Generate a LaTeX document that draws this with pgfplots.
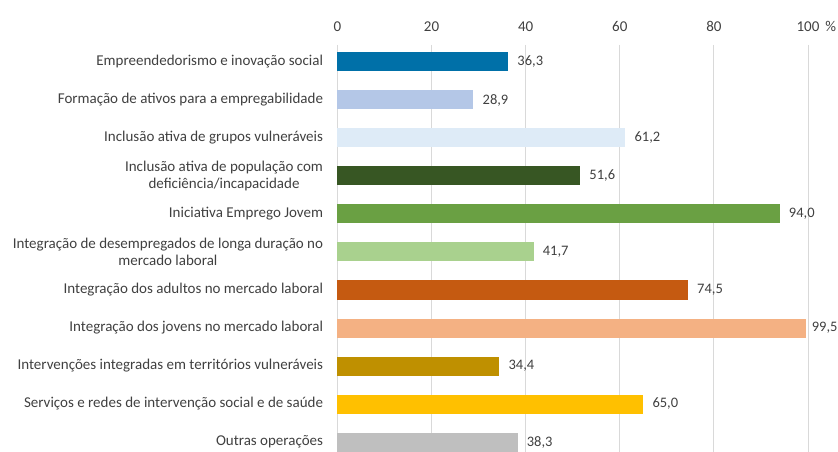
\documentclass[border=0pt]{standalone}
\usepackage{pgfplots}
\pgfplotsset{compat=1.18}
\usepackage{fontspec}
\setmainfont{Carlito}
\definecolor{c1}{HTML}{0070A8}
\definecolor{c2}{HTML}{B4C7E7}
\definecolor{c3}{HTML}{DEEBF7}
\definecolor{c4}{HTML}{375623}
\definecolor{c5}{HTML}{6AA043}
\definecolor{c6}{HTML}{A9D18E}
\definecolor{c7}{HTML}{C55A11}
\definecolor{c8}{HTML}{F4B183}
\definecolor{c9}{HTML}{BF9000}
\definecolor{c10}{HTML}{FFC000}
\definecolor{c11}{HTML}{BFBFBF}
\definecolor{txt}{HTML}{404040}
\definecolor{gridc}{HTML}{D9D9D9}
\begin{document}
\fontsize{15}{17}\selectfont
\begin{tikzpicture}
\useasboundingbox (-337.5pt,0pt) rectangle (500.5pt,452pt);
\begin{axis}[
  at={(0pt,0pt)}, anchor=south west,
  scale only axis, width=470.5pt, height=407pt,
  xbar, bar width=19pt, bar shift=0pt,
  xmin=0, xmax=100, ymin=-0.447, ymax=10.263, y dir=reverse,
  clip=false,
  axis line style={draw=none},
  tick style={draw=none},
  xticklabel pos=upper,
  xtick={0,20,40,60,80,100},
  xticklabels={0,20,40,60,80,100\rlap{\hspace{0.4em}\%}},
  xticklabel style={text=txt, font=\fontsize{15}{17}\selectfont, yshift=8pt},
  xmajorgrids, grid style={gridc, line width=0.8pt},
  ytick={0,...,10},
  yticklabels={
    Empreendedorismo e inovação social,
    Formação de ativos para a empregabilidade,
    Inclusão ativa de grupos vulneráveis,
    {Inclusão ativa de população com\\deficiência/incapacidade},
    Iniciativa Emprego Jovem,
    {Integração de desempregados de longa duração no\\mercado laboral},
    Integração dos adultos no mercado laboral,
    Integração dos jovens no mercado laboral,
    Intervenções integradas em territórios vulneráveis,
    Serviços e redes de intervenção social e de saúde,
    Outras operações},
  yticklabel style={align=center, text=txt, font=\fontsize{15}{17}\selectfont, xshift=-5pt},
  nodes near coords,
  nodes near coords align=horizontal,
  every node near coord/.append style={text=txt, font=\fontsize{14.5}{16}\selectfont, xshift=4pt,
    /pgf/number format/fixed, /pgf/number format/fixed zerofill, /pgf/number format/precision=1,
    /pgf/number format/use comma, /pgf/number format/assume math mode=true},
  every axis plot/.append style={draw=none},
]
\addplot[fill=c1] coordinates {(36.3,0)};
\addplot[fill=c2] coordinates {(28.9,1)};
\addplot[fill=c3] coordinates {(61.2,2)};
\addplot[fill=c4] coordinates {(51.6,3)};
\addplot[fill=c5] coordinates {(94.0,4)};
\addplot[fill=c6] coordinates {(41.7,5)};
\addplot[fill=c7] coordinates {(74.5,6)};
\addplot[fill=c8, every node near coord/.append style={xshift=-3pt}] coordinates {(99.5,7)};
\addplot[fill=c9] coordinates {(34.4,8)};
\addplot[fill=c10] coordinates {(65.0,9)};
\addplot[fill=c11] coordinates {(38.3,10)};
\end{axis}
\end{tikzpicture}
\end{document}
